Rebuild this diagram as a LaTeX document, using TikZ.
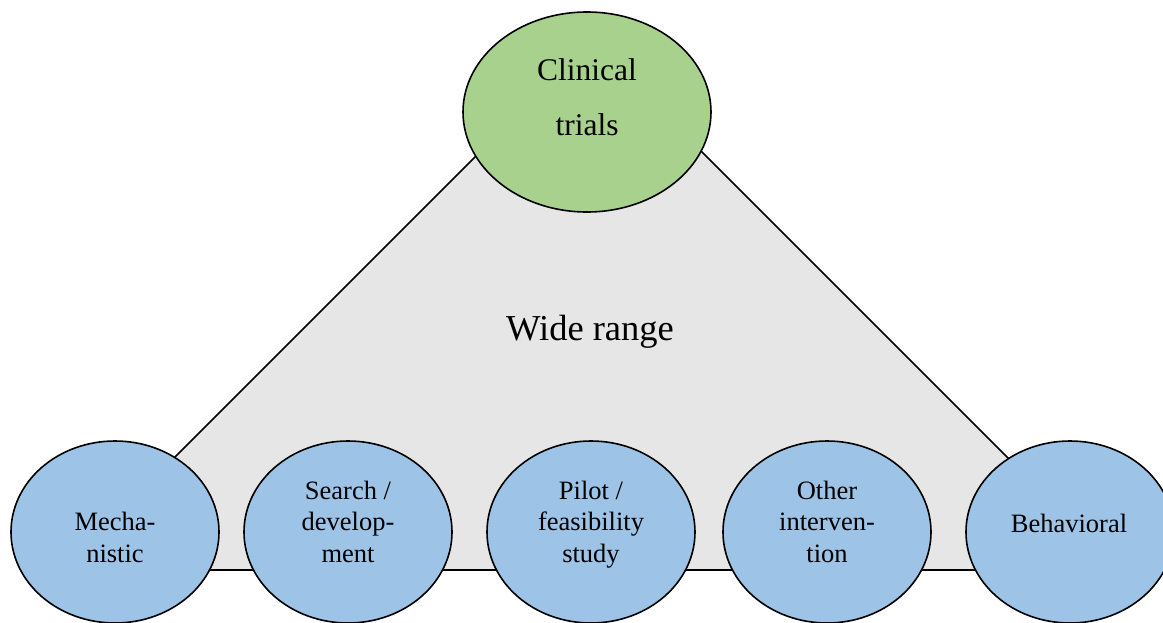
\documentclass[tikz,border=0pt]{standalone}
\usepackage{fontspec}
\setmainfont{Liberation Serif}
\usetikzlibrary{shapes.geometric}
\definecolor{leafblue}{HTML}{9DC3E6}
\definecolor{trialgreen}{HTML}{A9D18E}
\definecolor{rangegray}{HTML}{E6E6E6}
\begin{document}
\begin{tikzpicture}[x=1pt,y=-1pt,
  outline/.style={draw=black,line width=1.6pt},
  leaf/.style={outline,ellipse,fill=leafblue,minimum width=208pt,minimum height=182pt,inner sep=0pt},
  rootnode/.style={outline,ellipse,fill=trialgreen,minimum width=248pt,minimum height=200pt,inner sep=0pt},
  leaftext/.style={font=\fontsize{26.5}{31.5}\selectfont,align=center,anchor=base,inner sep=0pt},
  roottext/.style={font=\fontsize{31.5}{55}\selectfont,align=center,anchor=base,inner sep=0pt},
  rangetext/.style={font=\fontsize{36.5}{44}\selectfont,anchor=base,inner sep=0pt}]
\useasboundingbox (0,0) rectangle (1163,622);

% the shaded triangle spanning the range
\coordinate (tl) at (62,570);
\coordinate (apex) at (591,41);
\coordinate (tr) at (1120,570);
\filldraw[outline,fill=rangegray] (tl) -- (apex) -- (tr) -- cycle;
\node[rangetext] (range) at (590,340) {Wide range};

% top of the triangle (text anchored on its last baseline)
\node[rootnode] (trials) at (587,112) {};
\node[roottext] (trialstext) at (587,135) {Clinical\\trials};

% study types along the base
\node[leaf] (mech) at (115,532) {};
\node[leaf] (search) at (348,532) {};
\node[leaf] (pilot) at (591,532) {};
\node[leaf] (other) at (827,532) {};
\node[leaf] (behav) at (1070,532) {};

\node[leaftext] (mechtext) at (115,562) {Mecha-\\nistic};
\node[leaftext] (searchtext) at (348,562) {Search /\\develop-\\ment};
\node[leaftext] (pilottext) at (591,562) {Pilot /\\feasibility\\study};
\node[leaftext] (othertext) at (827,562) {Other\\interven-\\tion};
\node[leaftext] (behavtext) at (1069,532) {Behavioral};
\end{tikzpicture}
\end{document}
